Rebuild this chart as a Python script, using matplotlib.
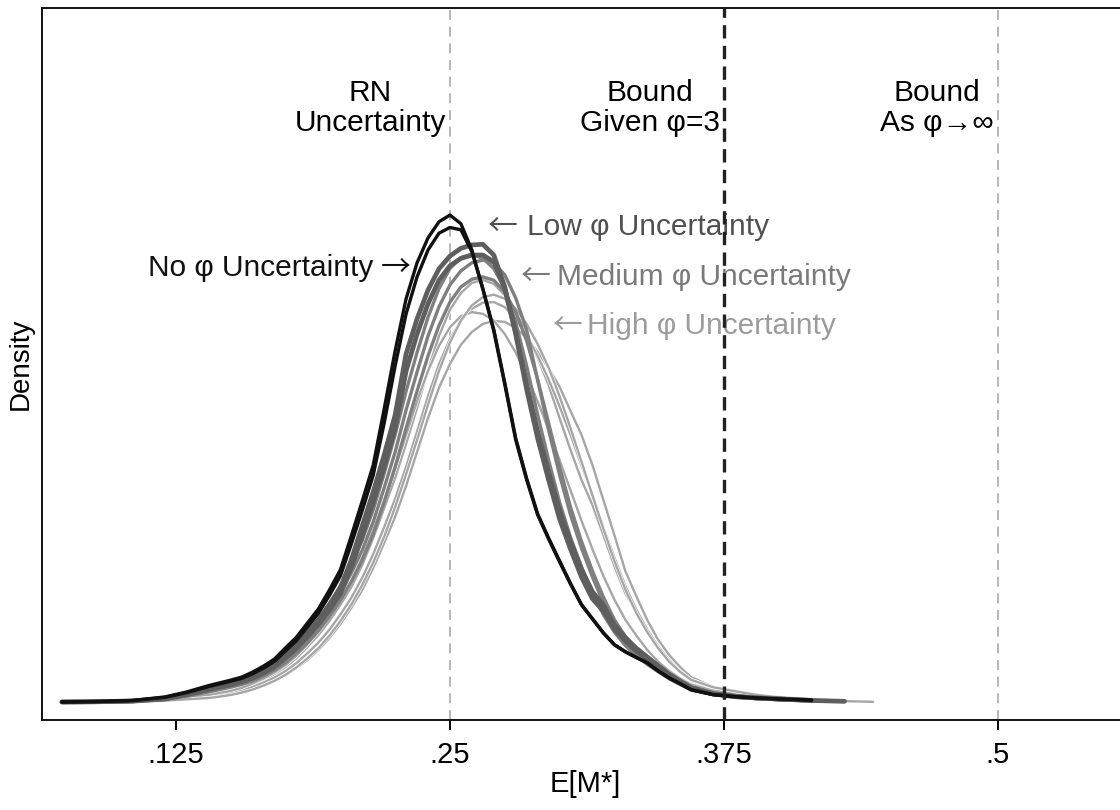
import numpy as np
import matplotlib
matplotlib.use("Agg")
from matplotlib import pyplot as plt
from matplotlib import patheffects as pe

plt.rcParams["font.family"] = ["Liberation Sans", "DejaVu Sans"]

nan = np.nan

# E[M*] grid the densities were read at
x = ([0.073, 0.09, 0.105, 0.12, 0.13]
     + [round(0.14 + 0.005 * i, 3) for i in range(45)]
     + [0.37, 0.38, 0.39, 0.40, 0.415, 0.43, 0.443])

# no phi uncertainty (black)
no_unc = [
    [0, 0.015, 0.045, 0.15, 0.30,
     0.49, 0.57, 0.65, 0.74, 0.89, 1.07, 1.28, 1.61, 1.93, 2.35,
     2.77, 3.33, 3.93, 4.94, 5.98, 7.05, 8.72, 10.45, 12.00, 13.07,
     13.81, 14.29, 14.49, 14.23, 13.45, 12.29, 11.04, 9.46, 7.80, 6.61,
     5.57, 4.85, 4.17, 3.51, 2.89, 2.47, 2.05, 1.70, 1.49, 1.32,
     1.16, 0.92, 0.71, 0.54, 0.36,
     0.22, 0.16, 0.12, 0.09, 0.06, nan, nan],
    [0, 0.015, 0.04, 0.14, 0.28,
     0.46, 0.54, 0.62, 0.70, 0.84, 1.01, 1.21, 1.52, 1.83, 2.23,
     2.64, 3.17, 3.75, 4.70, 5.70, 6.75, 8.30, 10.00, 11.55, 12.65,
     13.45, 13.95, 14.12, 14.05, 13.40, 12.30, 11.08, 9.50, 7.85, 6.65,
     5.60, 4.88, 4.20, 3.53, 2.90, 2.48, 2.06, 1.71, 1.50, 1.33,
     1.17, 0.93, 0.72, 0.55, 0.37,
     0.22, 0.16, 0.12, 0.09, 0.05, nan, nan],
]
# low phi uncertainty (dark grey)
low_unc = [
    [0, 0.01, 0.03, 0.10, 0.24,
     0.40, 0.48, 0.55, 0.64, 0.76, 0.92, 1.13, 1.40, 1.70, 2.05,
     2.44, 2.89, 3.39, 4.23, 5.24, 6.25, 7.35, 8.54, 10.36, 11.40,
     12.26, 12.89, 13.27, 13.50, 13.60, 13.62, 13.30, 12.35, 10.95, 9.30,
     7.85, 6.61, 5.45, 4.55, 3.72, 3.07, 2.71, 2.17, 1.82, 1.52,
     1.28, 1.04, 0.80, 0.60, 0.42,
     0.24, 0.16, 0.12, 0.09, 0.045, nan, nan],
    [0, 0.008, 0.025, 0.09, 0.22,
     0.37, 0.44, 0.51, 0.60, 0.71, 0.86, 1.05, 1.31, 1.59, 1.93,
     2.30, 2.73, 3.22, 4.00, 4.95, 5.95, 7.00, 8.15, 9.85, 10.95,
     11.85, 12.55, 12.98, 13.20, 13.30, 13.30, 13.10, 12.30, 11.00, 9.45,
     8.05, 6.85, 5.70, 4.78, 3.95, 3.28, 2.88, 2.30, 1.92, 1.60,
     1.34, 1.08, 0.83, 0.62, 0.43,
     0.25, 0.17, 0.12, 0.09, 0.045, 0.02, nan],
]
# medium phi uncertainty (mid grey)
med_unc = [
    [0, 0.006, 0.03, 0.09, 0.19,
     0.34, 0.42, 0.49, 0.58, 0.70, 0.85, 1.04, 1.28, 1.58, 1.90,
     2.29, 2.74, 3.24, 3.84, 4.52, 5.36, 6.37, 7.44, 8.69, 9.82,
     10.89, 11.76, 12.41, 12.83, 13.07, 13.15, 13.07, 12.71, 12.02, 11.07,
     9.58, 8.10, 6.76, 5.57, 4.58, 3.72, 2.95, 2.32, 1.85, 1.49,
     1.22, 0.98, 0.74, 0.57, 0.39,
     0.24, 0.15, 0.10, 0.07, 0.045, 0.02, nan],
    [0, 0.005, 0.025, 0.08, 0.17,
     0.30, 0.37, 0.44, 0.52, 0.63, 0.77, 0.95, 1.17, 1.45, 1.76,
     2.12, 2.54, 3.02, 3.58, 4.22, 5.00, 5.95, 7.00, 8.15, 9.25,
     10.30, 11.20, 11.90, 12.35, 12.58, 12.65, 12.55, 12.20, 11.60, 10.75,
     9.60, 8.30, 7.00, 5.80, 4.78, 3.90, 3.12, 2.45, 1.95, 1.57,
     1.28, 1.02, 0.78, 0.60, 0.42,
     0.26, 0.16, 0.11, 0.07, 0.045, 0.015, nan],
    [0, 0.008, 0.035, 0.10, 0.21,
     0.37, 0.45, 0.53, 0.63, 0.76, 0.92, 1.12, 1.38, 1.70, 2.05,
     2.45, 2.93, 3.46, 4.10, 4.82, 5.72, 6.80, 7.95, 9.25, 10.40,
     11.45, 12.30, 12.90, 13.22, 13.32, 13.20, 12.90, 12.30, 11.30, 10.00,
     8.55, 7.20, 5.95, 4.90, 4.02, 3.25, 2.60, 2.08, 1.68, 1.38,
     1.12, 0.90, 0.69, 0.52, 0.36,
     0.22, 0.14, 0.10, 0.07, 0.04, nan, nan],
]
# high phi uncertainty (light grey)
high_unc = [
    [0, 0, 0.015, 0.045, 0.09,
     0.13, 0.18, 0.22, 0.30, 0.39, 0.51, 0.63, 0.80, 1.01, 1.25,
     1.55, 1.90, 2.32, 2.80, 3.33, 3.99, 4.73, 5.51, 6.43, 7.44,
     8.45, 9.35, 10.06, 10.63, 11.01, 11.25, 11.34, 11.31, 11.13, 10.83,
     10.42, 9.94, 9.38, 8.66, 7.95, 7.05, 6.01, 4.97, 3.90, 3.15,
     2.44, 1.85, 1.40, 1.04, 0.74,
     0.45, 0.33, 0.21, 0.15, 0.09, 0.03, 0.005],
    [0, 0, 0.02, 0.06, 0.12,
     0.18, 0.24, 0.30, 0.39, 0.51, 0.65, 0.83, 1.04, 1.31, 1.64,
     1.99, 2.41, 2.89, 3.42, 4.08, 4.88, 5.77, 6.67, 7.68, 8.75,
     9.88, 10.89, 11.67, 12.17, 12.47, 12.56, 12.44, 12.11, 11.61, 10.98,
     10.24, 9.43, 8.45, 7.50, 6.61, 5.86, 4.97, 4.05, 3.24, 2.68,
     2.08, 1.61, 1.22, 0.89, 0.63,
     0.39, 0.27, 0.18, 0.12, 0.06, 0.015, nan],
    [0, 0, 0.02, 0.05, 0.10,
     0.15, 0.21, 0.26, 0.34, 0.45, 0.58, 0.73, 0.92, 1.16, 1.45,
     1.77, 2.15, 2.60, 3.10, 3.70, 4.40, 5.20, 6.05, 7.00, 8.05,
     9.10, 10.05, 10.80, 11.35, 11.70, 11.88, 11.90, 11.75, 11.40, 10.90,
     10.30, 9.60, 8.80, 7.95, 7.05, 6.15, 5.20, 4.30, 3.45, 2.75,
     2.15, 1.65, 1.25, 0.92, 0.66,
     0.42, 0.30, 0.19, 0.13, 0.07, 0.02, 0.005],
    [0, 0.005, 0.025, 0.07, 0.14,
     0.21, 0.27, 0.33, 0.42, 0.55, 0.70, 0.88, 1.10, 1.38, 1.72,
     2.10, 2.55, 3.05, 3.60, 4.30, 5.10, 6.00, 6.95, 7.95, 8.95,
     9.85, 10.60, 11.15, 11.48, 11.60, 11.55, 11.35, 10.95, 10.40, 9.70,
     8.95, 8.10, 7.20, 6.30, 5.40, 4.55, 3.75, 3.05, 2.45, 1.98,
     1.55, 1.20, 0.92, 0.70, 0.52,
     0.34, 0.25, 0.17, 0.11, 0.06, 0.015, nan],
    [0, 0, 0.015, 0.04, 0.08,
     0.12, 0.16, 0.21, 0.28, 0.37, 0.49, 0.63, 0.81, 1.03, 1.30,
     1.60, 1.97, 2.40, 2.90, 3.48, 4.15, 4.92, 5.80, 6.78, 7.80,
     8.85, 9.85, 10.70, 11.35, 11.80, 12.05, 12.12, 12.00, 11.70, 11.25,
     10.65, 9.95, 9.10, 8.15, 7.15, 6.15, 5.15, 4.20, 3.35, 2.65,
     2.08, 1.60, 1.20, 0.90, 0.66,
     0.44, 0.32, 0.21, 0.14, 0.08, 0.025, 0.005],
]

bounds = [0.25, 0.375, 0.5]
bound_labels = ["RN\nUncertainty", "Bound\nGiven φ=3", "Bound\nAs φ→∞"]
xticks = [0.125, 0.25, 0.375, 0.5]
xticklabels = [".125", ".25", ".375", ".5"]

fig = plt.figure(figsize=(11.2, 8.1), dpi=100)
ax = fig.add_axes([0.0375, 0.1111, 0.9696, 0.879])

white = [pe.Stroke(linewidth=2.6, foreground="white"), pe.Normal()]
for y in high_unc:
    ax.plot(x, y, color="#a6a6a6", lw=1.7, solid_capstyle="round", path_effects=white, zorder=2)
for y in med_unc:
    ax.plot(x, y, color="#7f7f7f", lw=2.4, solid_capstyle="round", zorder=3)
for y in low_unc:
    ax.plot(x, y, color="#5e5e5e", lw=3.4, solid_capstyle="round", zorder=4)
for y in no_unc:
    ax.plot(x, y, color="#111111", lw=2.4, solid_capstyle="round", zorder=5)

ax.axvline(bounds[0], color="#aaaaaa", lw=1.2, ls=(0, (6, 4)), zorder=1)
ax.axvline(bounds[1], color="#222222", lw=2.4, ls=(0, (4, 2.2)), zorder=6)
ax.axvline(bounds[2], color="#aaaaaa", lw=1.2, ls=(0, (6, 4)), zorder=1)

for b, lab in zip(bounds, bound_labels):
    ax.annotate(lab, xy=(b, 17.68), xytext=(-3, 0), textcoords="offset points",
                ha="right", va="center", multialignment="center",
                fontsize=21.5, linespacing=1.08, color="black")

# curve labels; the long thin arrows come from the CJK font
arrow_font = ["Noto Sans CJK SC", "DejaVu Sans"]
ax.text(0.2149, 12.92, "No φ Uncertainty", ha="right", va="center", fontsize=21.5, color="#111111")
ax.text(0.2322, 12.92, "→", ha="right", va="center", fontsize=21.5, color="#111111", family=arrow_font)
ax.text(0.2675, 14.14, "←", ha="left", va="center", fontsize=21.5, color="#505050", family=arrow_font)
ax.text(0.2851, 14.14, "Low φ Uncertainty", ha="left", va="center", fontsize=21.5, color="#505050")
ax.text(0.2826, 12.65, "←", ha="left", va="center", fontsize=21.5, color="#7a7a7a", family=arrow_font)
ax.text(0.2988, 12.65, "Medium φ Uncertainty", ha="left", va="center", fontsize=21.5, color="#7a7a7a")
ax.text(0.2972, 11.19, "←", ha="left", va="center", fontsize=21.5, color="#9c9c9c", family=arrow_font)
ax.text(0.3125, 11.19, "High φ Uncertainty", ha="left", va="center", fontsize=21.5, color="#9c9c9c")

ax.set_xlim(0.0639, 0.5593)
ax.set_ylim(-0.536, 20.65)
ax.set_xticks(xticks)
ax.set_xticklabels(xticklabels)
ax.set_yticks([])
ax.tick_params(axis="x", length=7, width=1.4, pad=8, labelsize=21)
for s in ax.spines.values():
    s.set_linewidth(1.4)
    s.set_color("#111111")
ax.set_xlabel("E[M*]", fontsize=21, labelpad=1)
ax.set_ylabel("Density", fontsize=20, labelpad=6)

fig.savefig("out.png", dpi=100)
